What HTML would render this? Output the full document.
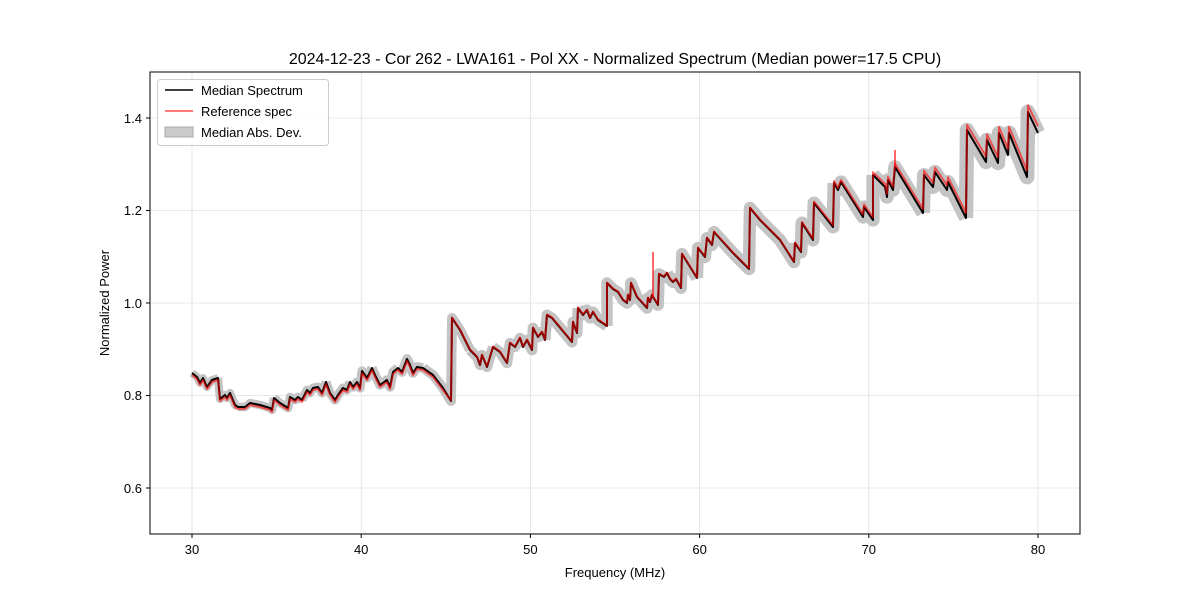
<!DOCTYPE html>
<html><head><meta charset="utf-8"><style>
body{margin:0;background:#fff;}
svg text{font-family:"Liberation Sans","DejaVu Sans",sans-serif;}
</style></head><body>
<svg id="s" width="1200" height="600" xmlns="http://www.w3.org/2000/svg">
<rect width="1200" height="600" fill="#fff"/>
<g stroke="#e0e0e0" stroke-width="0.8">
<line x1="192" y1="72" x2="192" y2="534"/><line x1="361.2" y1="72" x2="361.2" y2="534"/><line x1="530.4" y1="72" x2="530.4" y2="534"/><line x1="699.6" y1="72" x2="699.6" y2="534"/><line x1="868.8" y1="72" x2="868.8" y2="534"/><line x1="1038" y1="72" x2="1038" y2="534"/>
<line x1="150" y1="488" x2="1080" y2="488"/><line x1="150" y1="395.5" x2="1080" y2="395.5"/><line x1="150" y1="303" x2="1080" y2="303"/><line x1="150" y1="210.5" x2="1080" y2="210.5"/><line x1="150" y1="118" x2="1080" y2="118"/>
</g>
<g id="band"></g>
<polyline id="blk" fill="none" stroke="#000" stroke-width="2" stroke-linejoin="round"/>
<polyline id="red" fill="none" stroke="rgba(255,0,0,0.6)" stroke-width="2" stroke-linejoin="round"/>
<line x1="653" y1="297" x2="653" y2="252" stroke="rgba(255,0,0,0.6)" stroke-width="2"/>
<line x1="895" y1="167" x2="895" y2="150" stroke="rgba(255,0,0,0.6)" stroke-width="2"/>
<rect x="150" y="72" width="930" height="462" fill="none" stroke="#000" stroke-width="1"/>
<g stroke="#000" stroke-width="1">
<line x1="192" y1="534" x2="192" y2="538"/><line x1="361.2" y1="534" x2="361.2" y2="538"/><line x1="530.4" y1="534" x2="530.4" y2="538"/><line x1="699.6" y1="534" x2="699.6" y2="538"/><line x1="868.8" y1="534" x2="868.8" y2="538"/><line x1="1038" y1="534" x2="1038" y2="538"/>
<line x1="146" y1="488" x2="150" y2="488"/><line x1="146" y1="395.5" x2="150" y2="395.5"/><line x1="146" y1="303" x2="150" y2="303"/><line x1="146" y1="210.5" x2="150" y2="210.5"/><line x1="146" y1="118" x2="150" y2="118"/>
</g>
<g font-size="13" fill="#000" text-anchor="middle">
<text x="192" y="554">30</text><text x="361.2" y="554">40</text><text x="530.4" y="554">50</text><text x="699.6" y="554">60</text><text x="868.8" y="554">70</text><text x="1038" y="554">80</text>
</g>
<g font-size="13" fill="#000" text-anchor="end">
<text x="142" y="493">0.6</text><text x="142" y="400">0.8</text><text x="142" y="308">1.0</text><text x="142" y="215">1.2</text><text x="142" y="123">1.4</text>
</g>
<text x="615" y="577" font-size="13" text-anchor="middle">Frequency (MHz)</text>
<text x="109" y="303" font-size="13" text-anchor="middle" transform="rotate(-90 109 303)">Normalized Power</text>
<text x="615" y="64" font-size="16" text-anchor="middle">2024-12-23 - Cor 262 - LWA161 - Pol XX - Normalized Spectrum (Median power=17.5 CPU)</text>
<rect x="157.5" y="79.5" width="171" height="66" rx="3" fill="#fff" fill-opacity="0.8" stroke="#ccc"/>
<line x1="165" y1="90" x2="193" y2="90" stroke="#000" stroke-width="1.6"/>
<line x1="165" y1="111" x2="193" y2="111" stroke="rgba(255,0,0,0.6)" stroke-width="1.8"/>
<rect x="165" y="127" width="28" height="10" fill="#ccc" stroke="#aaa"/>
<g font-size="13"><text x="201" y="95">Median Spectrum</text><text x="201" y="116">Reference spec</text><text x="201" y="137">Median Abs. Dev.</text></g>
</svg>
<script>
var P=[[192,373],[197,377],[200,383],[203,378],[207,387],[212,380],[218,378],[220,399],[225,395],[227,398],[230,393],[235,405],[238,407],[245,407],[250,403],[260,405],[270,408],[272,410],[274,398],[280,403],[288,408],[290,397],[295,400],[298,397],[302,400],[307,390],[310,393],[313,388],[318,387],[322,393],[326,382],[330,393],[335,400],[338,395],[343,388],[347,390],[350,382],[353,387],[357,382],[360,388],[362,371],[367,378],[372,368],[375,375],[380,385],[387,380],[390,387],[393,372],[398,368],[402,372],[407,359],[410,365],[413,373],[417,367],[423,368],[433,375],[443,388],[451,401],[452,318],[460,330],[470,350],[477,357],[480,365],[482,355],[487,367],[490,357],[493,347],[500,352],[507,363],[510,343],[515,347],[520,338],[523,347],[527,340],[532,350],[533,328],[538,337],[542,332],[545,340],[547,315],[552,318],[572,342],[573,322],[577,333],[578,308],[583,315],[587,310],[590,318],[593,312],[598,320],[607,326],[607,283],[613,289],[618,292],[623,300],[627,303],[628,295],[630,300],[631,283],[637,297],[647,308],[648,298],[650,302],[652,295],[653,297],[658,305],[659,274],[664,277],[667,273],[670,279],[673,282],[676,279],[681,288],[682,254],[697,278],[698,248],[705,257],[707,238],[712,245],[714,232],[733,253],[749,269],[750,208],[760,220],[780,240],[794,262],[795,243],[801,252],[802,223],[813,240],[814,203],[833,227],[834,183],[838,190],[841,182],[863,217],[864,207],[873,220],[873,175],[885,187],[887,197],[888,180],[893,190],[895,167],[923,213],[924,175],[933,187],[935,172],[947,190],[948,182],[966,218],[967,130],[986,162],[987,140],[998,163],[999,133],[1008,155],[1009,133],[1027,177],[1028,112],[1038,133]];
var NS="http://www.w3.org/2000/svg",band=document.getElementById("band");
function w(x){return 8+(x-192)/846*7;}
for(var i=0;i<P.length-1;i+=6){var seg=P.slice(i,Math.min(i+7,P.length));var pl=document.createElementNS(NS,"polyline");pl.setAttribute("points",seg.map(function(p){return p[0]+","+p[1]}).join(" "));pl.setAttribute("fill","none");pl.setAttribute("stroke","#c4c4c4");pl.setAttribute("stroke-linejoin","round");pl.setAttribute("stroke-width",w(seg[0][0]));band.appendChild(pl);}
function dy(x){return x<450?2:(x<800?-0.5:-(x-800)/40-1);}
document.getElementById("blk").setAttribute("points",P.map(function(p){return p[0]+","+p[1]}).join(" "));
document.getElementById("red").setAttribute("points",P.map(function(p){return p[0]+","+(p[1]+dy(p[0]))}).join(" "));
</script>
</body></html>
